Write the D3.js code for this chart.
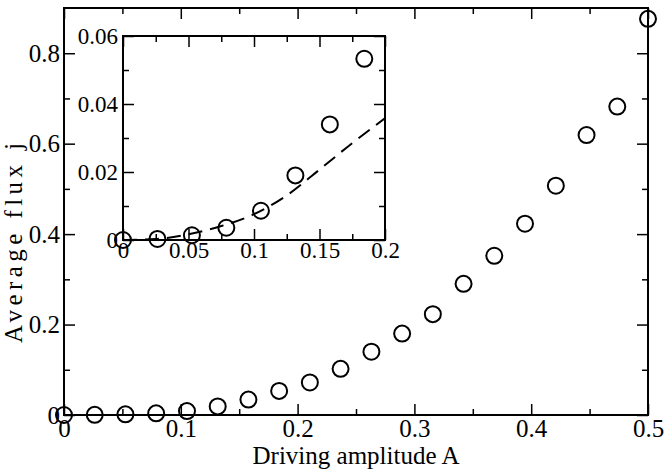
<!DOCTYPE html>
<html>
<head>
  <style>
    body { margin: 0; background: #fff; }
    text { font-family: "Liberation Serif", "Times New Roman", serif; fill: #000; }
  </style>
</head>
<body>
  <svg id="chart"></svg>

  <script src="https://d3js.org/d3.v7.min.js"></script>
  <script>
    // main series: driving amplitude vs average flux
    const amplitude = [0, 0.0263, 0.0526, 0.0789, 0.1053, 0.1316, 0.1579, 0.1842, 0.2105, 0.2368,
      0.2632, 0.2895, 0.3158, 0.3421, 0.3684, 0.3947, 0.4211, 0.4474, 0.4737, 0.5];
    const flux = [0, 0.0003, 0.0014, 0.0036, 0.0086, 0.019, 0.034, 0.0533, 0.072, 0.102,
      0.140, 0.180, 0.223, 0.290, 0.352, 0.423, 0.507, 0.619, 0.682, 0.876];

    // dashed curve in the inset
    const fitX = [0, 0.025, 0.05, 0.075, 0.1, 0.125, 0.15, 0.175, 0.2];
    const fitY = [0, 0.0003, 0.0017, 0.0041, 0.0076, 0.0131, 0.0207, 0.0285, 0.0358];

    const xTicks = [0, 0.1, 0.2, 0.3, 0.4, 0.5];
    const xMinor = [0.05, 0.15, 0.25, 0.35, 0.45];
    const yTicks = [0, 0.2, 0.4, 0.6, 0.8];
    const yMinor = [0.1, 0.3, 0.5, 0.7];
    const inXTicks = [0, 0.05, 0.1, 0.15, 0.2];
    const inXMinor = [0.025, 0.075, 0.125, 0.175];
    const inYTicks = [0, 0.02, 0.04, 0.06];
    const inYMinor = [0.01, 0.03, 0.05];

    const width = 664, height = 469;
    const svg = d3.select("#chart").attr("width", width).attr("height", height);

    const points = amplitude.map((a, i) => ({ x: a, y: flux[i] }));
    const fmt = d3.format("~g");

    // draws a framed panel with inward ticks on all sides
    const panel = (box, xDomain, yDomain, t, fontSize, padX, padY) => {
      const x = d3.scaleLinear().domain(xDomain).range([box.left, box.right]);
      const y = d3.scaleLinear().domain(yDomain).range([box.bottom, box.top]);
      const g = svg.append("g");

      g.append("rect")
        .attr("x", box.left).attr("y", box.top)
        .attr("width", box.right - box.left).attr("height", box.bottom - box.top)
        .attr("fill", "#fff");

      const sides = [
        [d3.axisBottom, x, box.bottom, true, true],
        [d3.axisTop, x, box.top, true, false],
        [d3.axisLeft, y, box.left, false, true],
        [d3.axisRight, y, box.right, false, false]
      ];
      sides.forEach(([make, scale, pos, horiz, labels]) => {
        [[horiz ? t.x : t.y, 11, labels], [horiz ? t.xm : t.ym, 6, false]].forEach(([vals, len, lab]) => {
          const a = make(scale)
            .tickValues(vals)
            .tickSizeInner(-len)
            .tickSizeOuter(0)
            .tickPadding(horiz ? padX : padY)
            .tickFormat(lab ? fmt : () => "");
          const ag = g.append("g")
            .attr("transform", horiz ? `translate(0,${pos})` : `translate(${pos},0)`)
            .call(a);
          ag.select(".domain").remove();
          ag.selectAll("line").attr("stroke", "#000").attr("stroke-width", 1.5);
          ag.selectAll("text").attr("font-size", fontSize);
        });
      });

      g.append("rect")
        .attr("x", box.left).attr("y", box.top)
        .attr("width", box.right - box.left).attr("height", box.bottom - box.top)
        .attr("fill", "none").attr("stroke", "#000").attr("stroke-width", 2);

      return { x, y, g };
    };

    // main plot
    const main = panel({ left: 64, right: 648, top: 8, bottom: 415 }, [0, 0.5], [0, 0.9],
      { x: xTicks, xm: xMinor, y: yTicks, ym: yMinor }, 25, 4, 4);

    main.g.append("g")
      .selectAll("circle")
      .data(points)
      .join("circle")
      .attr("cx", d => main.x(d.x))
      .attr("cy", d => main.y(d.y))
      .attr("r", 8)
      .attr("fill", "none")
      .attr("stroke", "#000")
      .attr("stroke-width", 2);

    main.g.append("text")
      .attr("transform", `translate(22,243) rotate(-90)`)
      .attr("text-anchor", "middle")
      .attr("font-size", 25)
      .attr("textLength", 200)
      .attr("lengthAdjust", "spacing")
      .text("Average flux j");

    main.g.append("text")
      .attr("x", 356).attr("y", 464)
      .attr("text-anchor", "middle")
      .attr("font-size", 25)
      .text("Driving amplitude A");

    // inset
    const inset = panel({ left: 123, right: 385, top: 36, bottom: 240 }, [0, 0.2], [0, 0.06],
      { x: inXTicks, xm: inXMinor, y: inYTicks, ym: inYMinor }, 23, 2, 5);

    svg.append("clipPath").attr("id", "inclip")
      .append("rect").attr("x", 123).attr("y", 36).attr("width", 262).attr("height", 204);

    inset.g.append("path")
      .datum(fitX.map((v, i) => [v, fitY[i]]))
      .attr("clip-path", "url(#inclip)")
      .attr("d", d3.line().x(d => inset.x(d[0])).y(d => inset.y(d[1])).curve(d3.curveMonotoneX))
      .attr("fill", "none")
      .attr("stroke", "#000")
      .attr("stroke-width", 2)
      .attr("stroke-dasharray", "14,8");

    inset.g.append("g")
      .selectAll("circle")
      .data(points.filter(d => d.x <= 0.2))
      .join("circle")
      .attr("cx", d => inset.x(d.x))
      .attr("cy", d => inset.y(d.y))
      .attr("r", 8)
      .attr("fill", "none")
      .attr("stroke", "#000")
      .attr("stroke-width", 2);
  </script>
</body>
</html>
